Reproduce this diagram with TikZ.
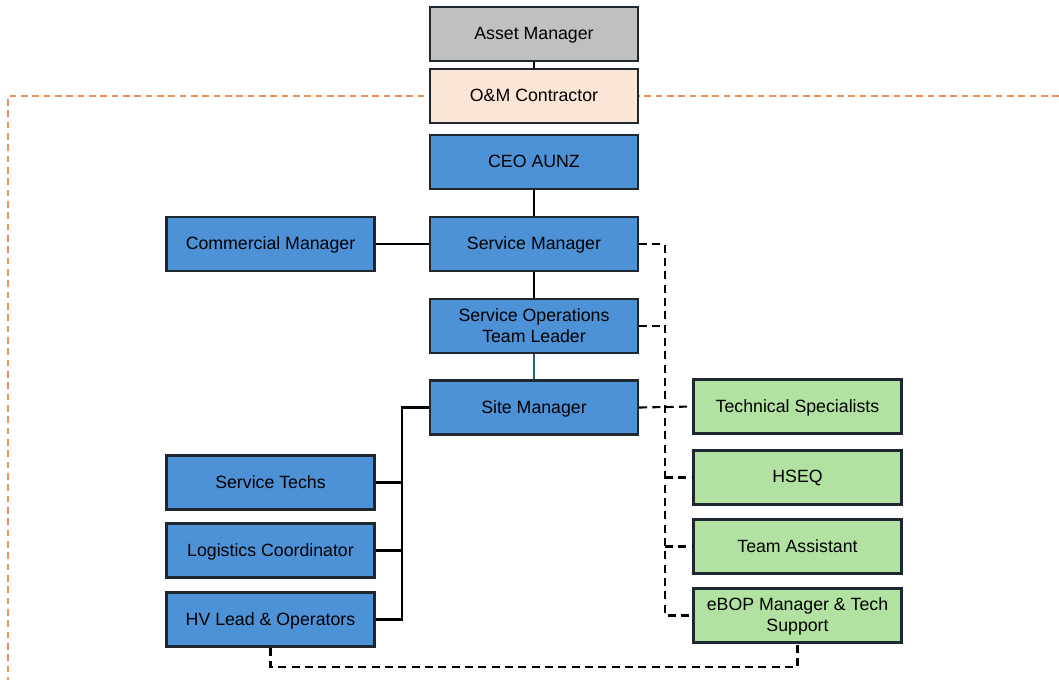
\documentclass[tikz,border=0pt]{standalone}
\usepackage{fontspec}
\setmainfont{Liberation Sans}
\definecolor{boxline}{HTML}{1E2833}
\definecolor{bluefill}{HTML}{4D91D7}
\definecolor{greenfill}{HTML}{B2E2A1}
\definecolor{peachfill}{HTML}{FCE4D6}
\definecolor{greyfill}{HTML}{C0C0C0}
\definecolor{frameorange}{HTML}{EE9055}
\definecolor{tealline}{HTML}{1F6680}
\tikzset{
  orgbox/.style={draw=boxline, line width=1.6pt, minimum width=156pt, minimum height=40.5pt,
    inner sep=2pt, align=center, text depth=1.2pt, font=\fontsize{13.3}{15.6}\selectfont},
  bluebox/.style={orgbox, fill=bluefill},
  greenbox/.style={orgbox, fill=greenfill},
  solidlink/.style={draw=black, line width=1.6pt},
  dashlink/.style={draw=black, line width=1.6pt, dash pattern=on 6pt off 4pt},
  framedash/.style={draw=frameorange, line width=1.2pt, dash pattern=on 5pt off 3.5pt}
}
\begin{document}
\begin{tikzpicture}[x=0.75pt, y=-0.75pt]
\useasboundingbox (0,0) rectangle (1059,680);

% contractor boundary
\draw[framedash] (1059,96) -- (8,96) -- (8,680);

% nodes
\node[orgbox, fill=greyfill] (asset) at (534,34) {Asset Manager};
\node[orgbox, fill=peachfill] (om) at (534,96) {O\&M Contractor};
\node[bluebox] (ceo) at (534,162) {CEO AUNZ};
\node[bluebox] (sm) at (534,244) {Service Manager};
\node[bluebox] (cm) at (270.5,244) {Commercial Manager};
\node[bluebox] (sotl) at (534,326) {Service Operations\\Team Leader};
\node[bluebox] (site) at (534,407.5) {Site Manager};
\node[bluebox] (st) at (270.5,482.5) {Service Techs};
\node[bluebox] (lc) at (270.5,550.5) {Logistics Coordinator};
\node[bluebox] (hv) at (270.5,619.5) {HV Lead \& Operators};
\node[greenbox] (ts) at (797.5,406.5) {Technical Specialists};
\node[greenbox] (hseq) at (797.5,477.5) {HSEQ};
\node[greenbox] (ta) at (797.5,546.5) {Team Assistant};
\node[greenbox] (ebop) at (797.5,615.5) {eBOP Manager \& Tech\\Support};

\coordinate (trunk) at (402,407.5);
\coordinate (bus) at (665,244);

% solid reporting lines
\draw[solidlink] (asset) -- (om);
\draw[solidlink] (ceo) -- (sm);
\draw[solidlink] (cm) -- (sm);
\draw[solidlink] (sm) -- (sotl);
\draw[draw=tealline, line width=1.6pt] (sotl) -- (site);
\draw[solidlink] (site.west) -- (trunk) |- (hv.east);
\draw[solidlink] (st.east) -- (st.east -| trunk);
\draw[solidlink] (lc.east) -- (lc.east -| trunk);

% dashed support lines
\draw[dashlink] (sm.east) -- (bus) -- (bus |- ebop.west) -- (ebop.west);
\draw[dashlink] (sotl.east) -- (sotl.east -| bus);
\draw[dashlink] (site.east) -- (ts.west);
\draw[dashlink] (hseq.west -| bus) -- (hseq.west);
\draw[dashlink] (ta.west -| bus) -- (ta.west);
\draw[dashlink] (hv.south) -- ++(0,19) -| (ebop.south);
\end{tikzpicture}
\end{document}
